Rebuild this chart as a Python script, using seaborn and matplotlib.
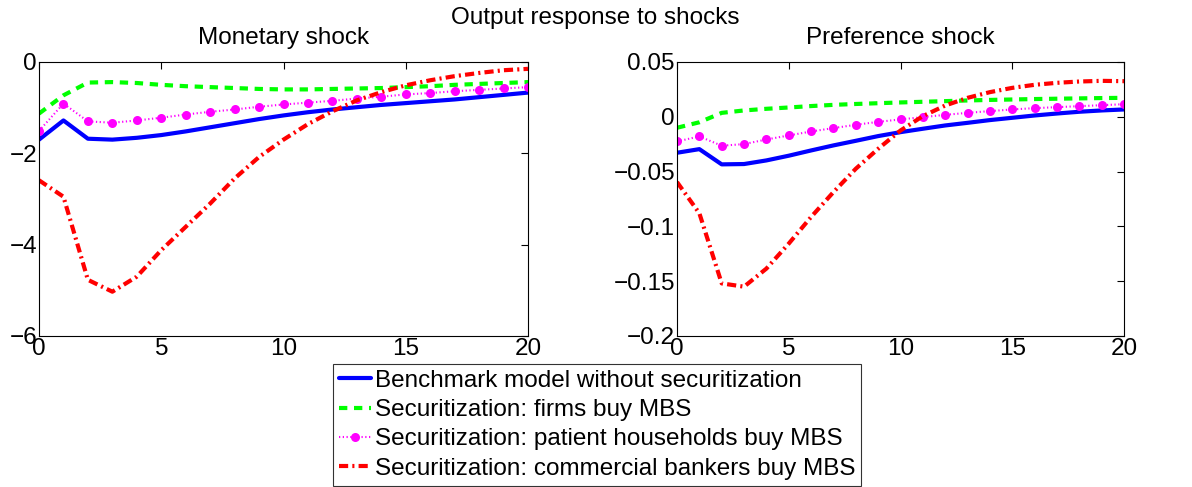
import numpy as np
import pandas as pd
import matplotlib
matplotlib.use("Agg")
import matplotlib.pyplot as plt
import seaborn as sns
from matplotlib.ticker import FuncFormatter

sns.set_style("white")
plt.rcParams['font.family'] = ['Liberation Sans', 'DejaVu Sans']
plt.rcParams['text.color'] = 'black'
plt.rcParams['axes.labelcolor'] = 'black'
plt.rcParams['xtick.color'] = 'black'
plt.rcParams['ytick.color'] = 'black'

periods = list(range(21))
series_names = [
    "Benchmark model without securitization",
    "Securitization: firms buy MBS",
    "Securitization: patient households buy MBS",
    "Securitization: commercial bankers buy MBS",
]

# Monetary shock
mon_bench = [-1.70, -1.28, -1.68, -1.70, -1.66, -1.60, -1.52, -1.43, -1.34, -1.25, -1.17,
             -1.10, -1.04, -0.99, -0.94, -0.90, -0.86, -0.82, -0.77, -0.72, -0.67]
mon_firms = [-1.13, -0.73, -0.45, -0.44, -0.46, -0.50, -0.53, -0.55, -0.57, -0.59, -0.60,
             -0.60, -0.59, -0.58, -0.57, -0.55, -0.53, -0.50, -0.48, -0.46, -0.44]
mon_patient = [-1.51, -0.91, -1.30, -1.33, -1.28, -1.22, -1.15, -1.09, -1.04, -0.98, -0.93,
               -0.89, -0.85, -0.80, -0.76, -0.71, -0.68, -0.64, -0.61, -0.58, -0.55]
mon_bankers = [-2.59, -2.95, -4.77, -5.03, -4.70, -4.12, -3.61, -3.10, -2.55, -2.08, -1.70,
               -1.36, -1.08, -0.84, -0.66, -0.51, -0.40, -0.31, -0.24, -0.18, -0.15]

# Preference shock
pref_bench = [-0.0328, -0.0295, -0.0434, -0.0431, -0.0398, -0.0355, -0.0307, -0.0261, -0.0219,
              -0.0176, -0.0140, -0.0109, -0.0079, -0.0055, -0.0030, -0.0009, 0.0012, 0.0030,
              0.0046, 0.0058, 0.0067]
pref_firms = [-0.0100, -0.0050, 0.0036, 0.0058, 0.0073, 0.0085, 0.0098, 0.0109, 0.0117, 0.0124,
              0.0131, 0.0137, 0.0143, 0.0149, 0.0154, 0.0158, 0.0162, 0.0165, 0.0168, 0.0171, 0.0173]
pref_patient = [-0.0225, -0.0179, -0.0264, -0.0249, -0.0207, -0.0170, -0.0134, -0.0103, -0.0073,
                -0.0046, -0.0024, -0.0003, 0.0018, 0.0036, 0.0052, 0.0067, 0.0079, 0.0088,
                0.0097, 0.0106, 0.0115]
pref_bankers = [-0.0595, -0.0880, -0.1520, -0.1550, -0.1385, -0.1157, -0.0914, -0.0687, -0.0474,
                -0.0292, -0.0125, 0.0006, 0.0103, 0.0173, 0.0225, 0.0264, 0.0292, 0.0310,
                0.0322, 0.0328, 0.0325]

colors = ["#0000ff", "#00ff00", "#ff00ff", "#ff0000"]
styles = [
    dict(linestyle="-", linewidth=3.0),
    dict(linestyle=(0, (2.0, 1.6)), linewidth=3.0),
    dict(linestyle=(0, (0.6, 1.2)), linewidth=1.5, marker="o", markersize=6.5, markeredgewidth=0),
    dict(linestyle=(0, (2.2, 1.0, 0.5, 1.0)), linewidth=3.0),
]

FS = 17.5
fig = plt.figure(figsize=(11.92, 4.87), dpi=100)
ax1 = fig.add_axes([39/1192, 1-336/487, (528-39)/1192, (336-62)/487])
ax2 = fig.add_axes([677/1192, 1-336/487, (1124-677)/1192, (336-62)/487])

def fmt(v, pos):
    if abs(v) < 1e-12:
        return "0"
    s = ("%g" % v)
    return s.replace("-", "\u2212")

panels = [
    (ax1, "Monetary shock", [mon_bench, mon_firms, mon_patient, mon_bankers], (-6, 0), [-6, -4, -2, 0]),
    (ax2, "Preference shock", [pref_bench, pref_firms, pref_patient, pref_bankers], (-0.2, 0.05),
     [-0.2, -0.15, -0.1, -0.05, 0, 0.05]),
]
for ax, title, data, ylim, yticks in panels:
    for name, vals, c, st in zip(series_names, data, colors, styles):
        sns.lineplot(x=periods, y=vals, ax=ax, color=c, label=name, legend=False, **st)
    ax.set_xlim(0, 20)
    ax.set_ylim(*ylim)
    ax.set_xticks([0, 5, 10, 15, 20])
    ax.set_yticks(yticks)
    ax.yaxis.set_major_formatter(FuncFormatter(fmt))
    ax.tick_params(direction="in", length=5, width=0.8, labelsize=FS, top=True, right=True,
                   colors="black", pad=1.5)
    for sp in ax.spines.values():
        sp.set_color("black")
        sp.set_linewidth(0.8)
    ax.set_title(title, fontsize=FS, pad=13)

fig.text(0.499, 0.963, "Output response to shocks", ha="center", va="center", fontsize=FS)

handles, labels = ax1.get_legend_handles_labels()
leg = fig.legend(handles, labels, loc="lower center", bbox_to_anchor=(0.501, 0.0), ncol=1,
                 fontsize=FS, frameon=True, fancybox=False, handlelength=1.3, handletextpad=0.15,
                 borderpad=0.25, labelspacing=0.3, borderaxespad=0.05)
leg.get_frame().set_edgecolor("black")
leg.get_frame().set_linewidth(0.8)

fig.savefig("out.png", dpi=100)
